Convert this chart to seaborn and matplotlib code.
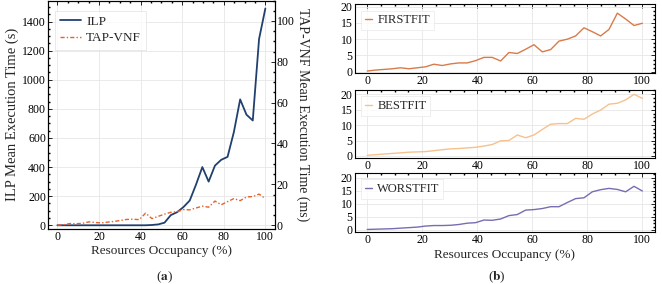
import matplotlib
matplotlib.use("Agg")
import matplotlib.pyplot as plt
import seaborn as sns
import pandas as pd
from matplotlib.ticker import MultipleLocator, AutoMinorLocator

# resource occupancy (%) sample points
occupancy = [0, 3.03, 6.06, 9.09, 12.12, 15.15, 18.18, 21.21, 24.24, 27.27,
             30.3, 33.33, 36.36, 39.39, 42.42, 45.45, 48.48, 51.52, 54.55, 57.58,
             60.61, 63.64, 66.67, 69.7, 72.73, 75.76, 78.79, 81.82, 84.85, 87.88,
             90.91, 93.94, 96.97, 100]

# (a) mean execution times
ilp_s = [0, 0, 0, 0, 0, 0, 0, 0, 0, 0, 0, 0, 0, 0, 0, 2, 6, 18, 70, 90,
         125, 170, 280, 400, 300, 410, 450, 470, 640, 865, 760, 720, 1280, 1490]
tapvnf_ms = [0, 0.2, 0.8, 0.7, 0.9, 1.6, 1.3, 1.1, 1.5, 1.8, 2.3, 2.8, 2.9, 2.7,
             5.9, 3.2, 4.3, 5.4, 6.3, 6.6, 7.6, 7.5, 8.4, 9.3, 8.8, 11.8, 10.0,
             11.5, 13.0, 12.0, 13.8, 14.0, 15.2, 13.0]

# (b) heuristics
firstfit = [0.2, 0.5, 0.7, 0.9, 1.2, 0.9, 1.2, 1.5, 2.3, 1.9, 2.4, 2.7, 2.7, 3.4,
            4.4, 4.4, 3.3, 5.9, 5.6, 6.9, 8.3, 6.1, 6.8, 9.4, 10.0, 11.0, 13.5,
            12.3, 11.0, 13.0, 18.0, 16.2, 14.2, 14.9]
bestfit = [0.2, 0.4, 0.6, 0.8, 1.0, 1.2, 1.3, 1.4, 1.7, 2.0, 2.3, 2.4, 2.6, 2.8,
           3.2, 3.7, 4.9, 5.0, 6.8, 5.9, 6.8, 8.6, 10.3, 10.5, 10.5, 12.2, 11.9,
           13.6, 14.9, 16.8, 17.1, 18.2, 20.0, 18.7]
worstfit = [0.2, 0.3, 0.4, 0.5, 0.7, 0.9, 1.1, 1.5, 1.7, 1.7, 1.8, 2.1, 2.6, 2.8,
            3.8, 3.7, 4.2, 5.5, 5.9, 7.6, 7.8, 8.2, 8.9, 8.9, 10.5, 12.0, 12.3,
            14.6, 15.4, 15.9, 15.5, 14.6, 16.7, 14.9]

sns.set_theme(style="whitegrid")
plt.rcParams.update({
    "font.family": ["Liberation Serif", "DejaVu Serif"],
    "mathtext.fontset": "stix",
    "axes.edgecolor": "black",
    "axes.linewidth": 0.8,
    "grid.color": "#e6e6e6",
    "grid.linewidth": 0.6,
    "xtick.direction": "in",
    "ytick.direction": "in",
    "xtick.major.width": 0.6,
    "ytick.major.width": 0.6,
    "xtick.color": "black",
    "ytick.color": "black",
    "xtick.labelsize": 8.5,
    "ytick.labelsize": 8.5,
    "axes.labelsize": 9.5,
    "legend.fontsize": 9.5,
})

def style_ticks(ax, right=True):
    ax.xaxis.set_minor_locator(AutoMinorLocator(4))
    ax.yaxis.set_minor_locator(AutoMinorLocator(4))
    ax.tick_params(which="both", top=True, right=right, length=3)
    ax.tick_params(which="minor", length=1.6)
    ax.tick_params(axis="both", pad=1.5)

df = pd.DataFrame({"occ": occupancy, "ILP": ilp_s, "TAP-VNF": tapvnf_ms,
                   "FIRSTFIT": firstfit, "BESTFIT": bestfit, "WORSTFIT": worstfit})

fig = plt.figure(figsize=(6.62, 2.84), dpi=100)

# ---- (a)
ax = fig.add_axes([0.0725, 0.195, 0.3425, 0.803])
ax2 = ax.twinx()
sns.lineplot(data=df, x="occ", y="ILP", ax=ax, color="#22406f", lw=1.3, label="ILP", legend=False)
sns.lineplot(data=df, x="occ", y="TAP-VNF", ax=ax2, color="#e4632b", lw=1.0,
             linestyle=(0, (3, 1.5, 1, 1.5)), label="TAP-VNF", legend=False)
ax.set_xlim(-4.5, 104.5)
ax.set_ylim(-23, 1544)
ax2.set_ylim(-1.7, 110)
ax.xaxis.set_major_locator(MultipleLocator(20))
ax.yaxis.set_major_locator(MultipleLocator(200))
ax2.yaxis.set_major_locator(MultipleLocator(20))
ax2.grid(False)
style_ticks(ax, right=False)
ax2.yaxis.set_minor_locator(AutoMinorLocator(4))
ax2.tick_params(which="both", direction="in", pad=1.5, length=3)
ax2.tick_params(which="minor", length=1.6)
ax.set_xlabel("Resources Occupancy (%)", labelpad=2)
ax.set_ylabel("ILP Mean Execution Time (s)", labelpad=2, fontsize=10.5)
ax2.set_ylabel("TAP-VNF Mean Execution Time (ms)", rotation=270, labelpad=11, fontsize=10)
h1, l1 = ax.get_legend_handles_labels()
h2, l2 = ax2.get_legend_handles_labels()
leg = ax.legend(h1 + h2, l1 + l2, loc="upper left", handlelength=1.6, handletextpad=0.4,
                borderpad=0.4, labelspacing=0.3, frameon=True, fancybox=False,
                bbox_to_anchor=(0.0, 0.985))
leg.get_frame().set_edgecolor("#e0e0e0")
leg.get_frame().set_linewidth(0.6)

# ---- (b)
panels = [("FIRSTFIT", "#d87b4b", [0.744, 0.241], (-0.31, 20.74)),
          ("BESTFIT", "#f6c18d", [0.444, 0.239], (-0.65, 21.4)),
          ("WORSTFIT", "#7a6cb0", [0.183, 0.208], (-0.78, 21.8))]
for name, col, (b, h), yl in panels:
    axb = fig.add_axes([0.536, b, 0.453, h])
    sns.lineplot(data=df, x="occ", y=name, ax=axb, color=col, lw=1.0, label=name)
    axb.set_xlim(-4.5, 104.5)
    axb.set_ylim(*yl)
    axb.xaxis.set_major_locator(MultipleLocator(20))
    axb.yaxis.set_major_locator(MultipleLocator(5))
    style_ticks(axb)
    axb.set_ylabel("")
    axb.set_xlabel("Resources Occupancy (%)" if name == "WORSTFIT" else "", labelpad=2)
    lg = axb.legend(loc="upper left", handlelength=0.6, handletextpad=0.4, borderpad=0.3,
                    frameon=True, fancybox=False, fontsize=9)
    lg.get_frame().set_edgecolor("#e8e8e8")
    lg.get_frame().set_linewidth(0.6)

fig.text(0.249, 0.025, r"($\mathbf{a}$)", ha="center", va="center", fontsize=9.5)
fig.text(0.751, 0.025, r"($\mathbf{b}$)", ha="center", va="center", fontsize=9.5)

fig.savefig("out.png", dpi=100)
